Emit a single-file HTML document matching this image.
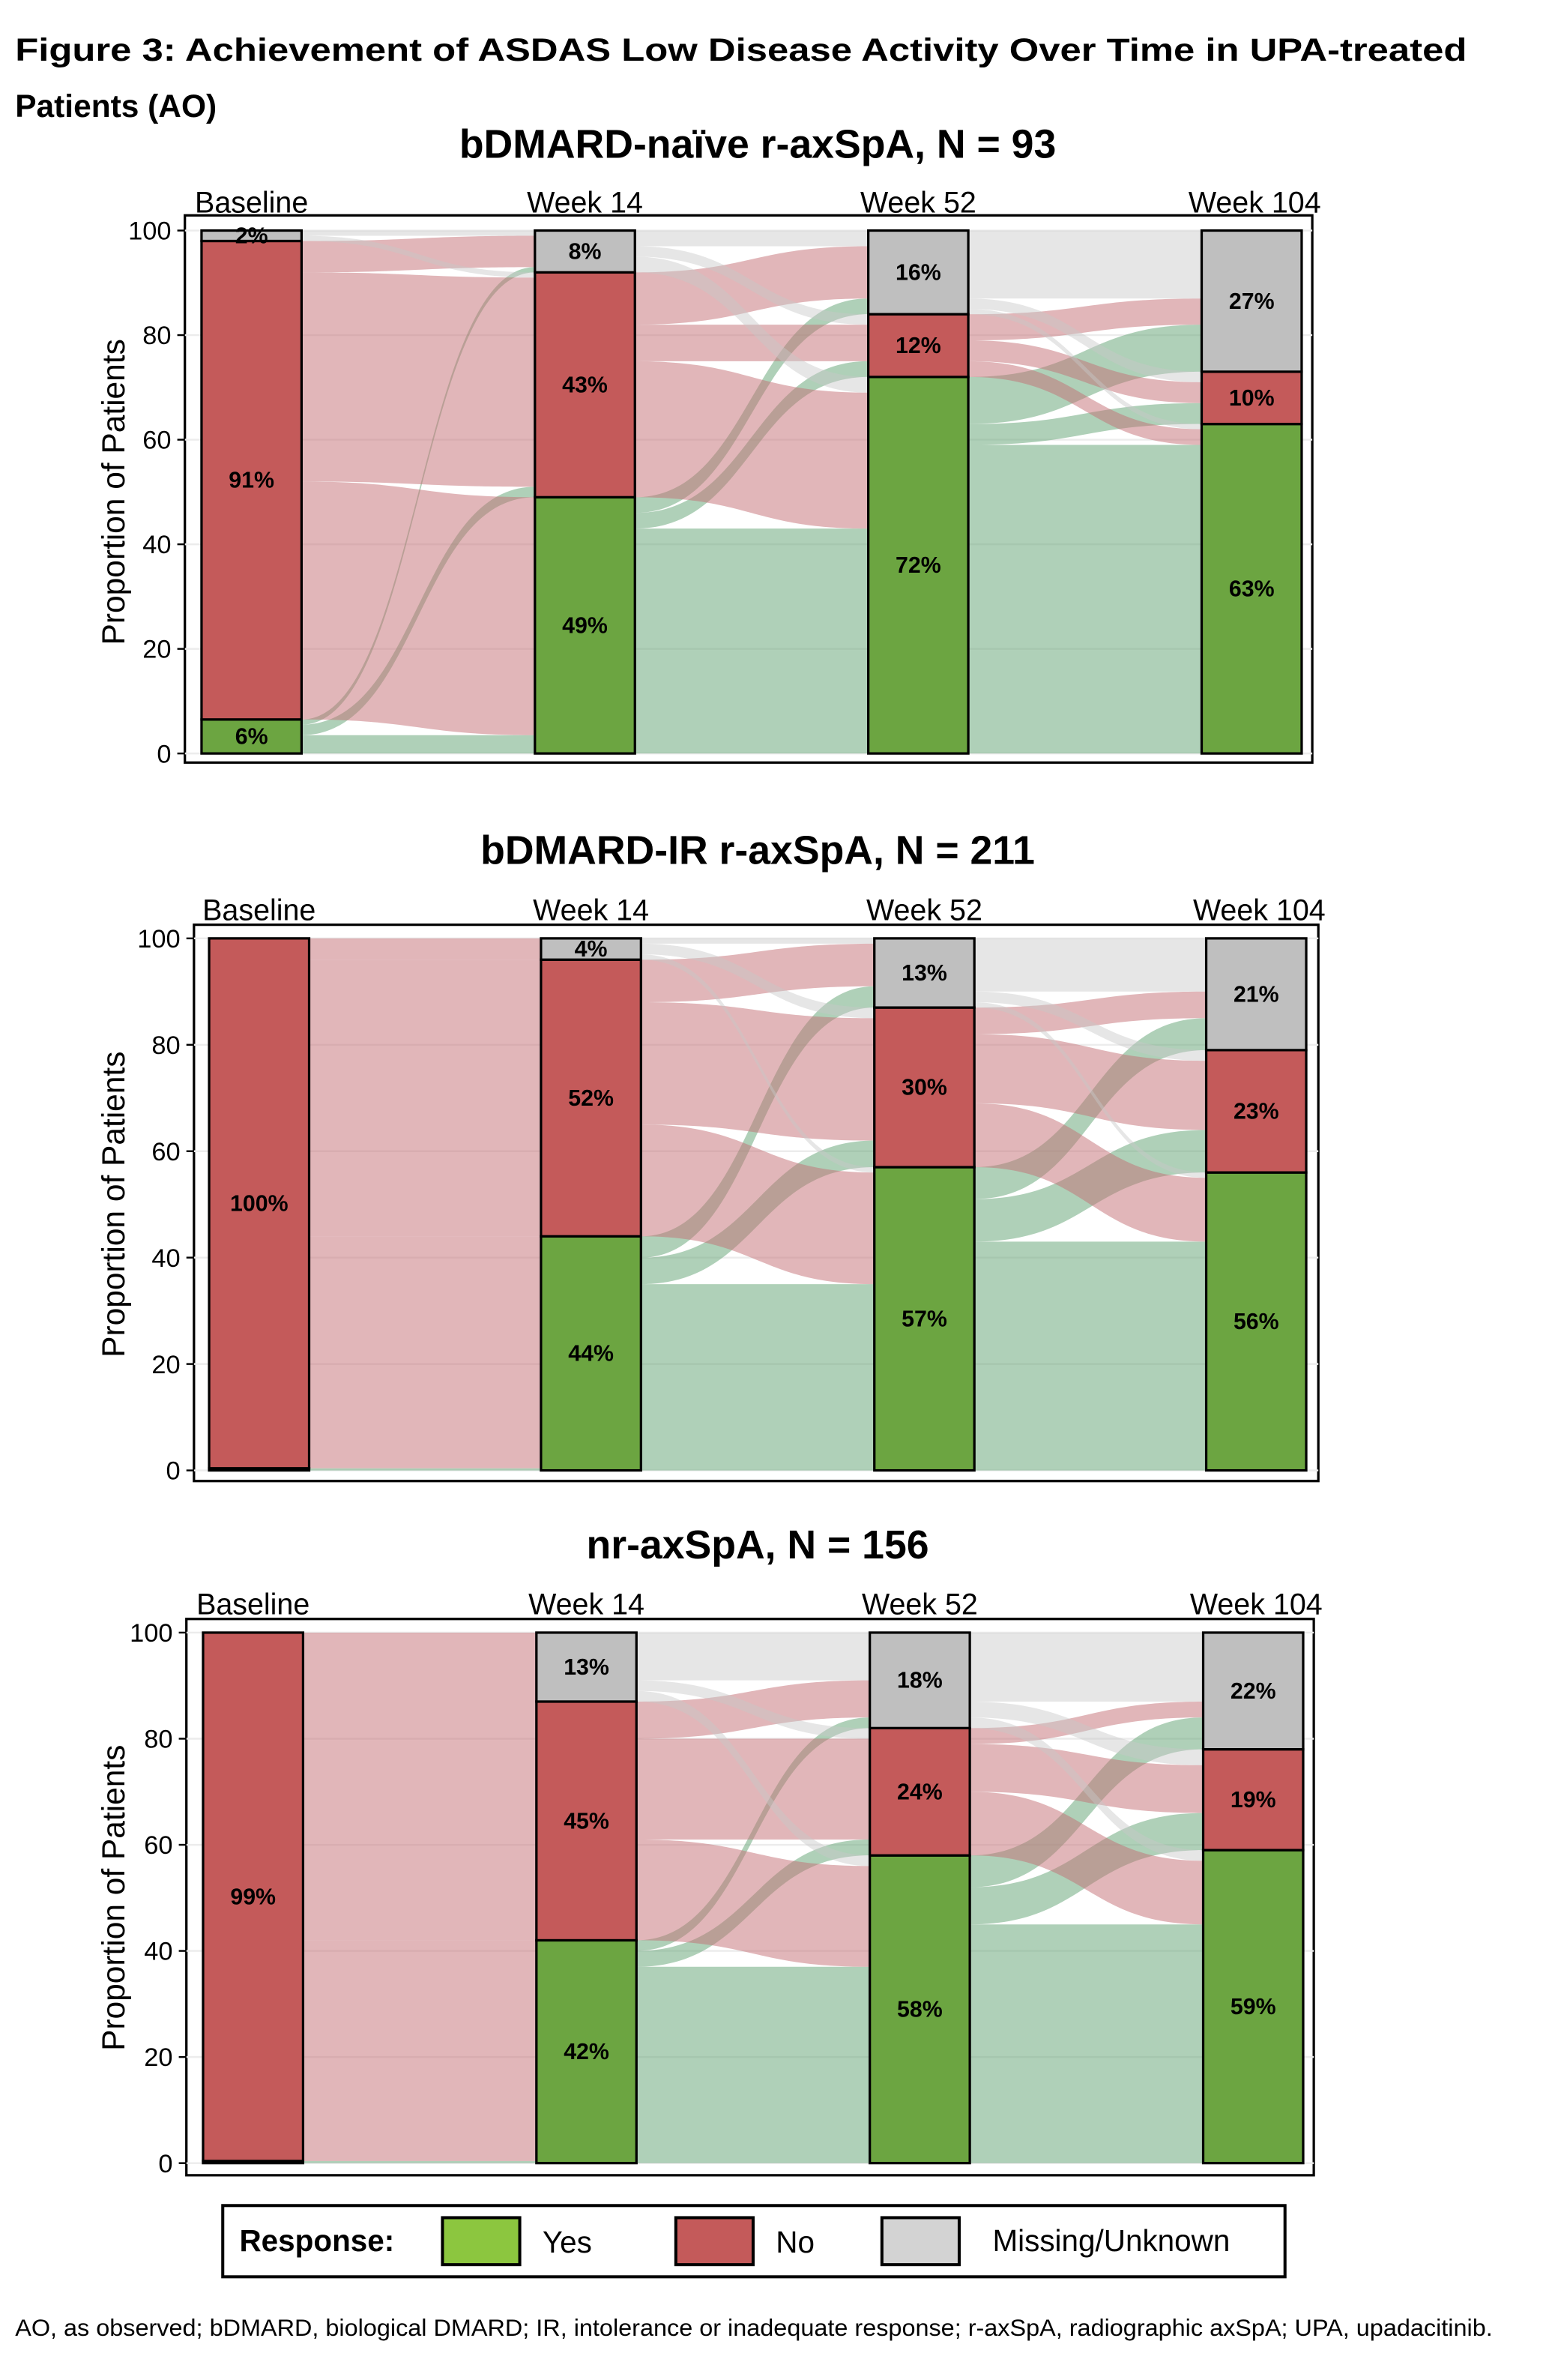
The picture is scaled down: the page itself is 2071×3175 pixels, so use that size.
<!DOCTYPE html>
<html><head><meta charset="utf-8">
<style>
html,body{margin:0;padding:0;background:#fff;}
svg{display:block;}
text{font-family:"Liberation Sans",Arial,sans-serif;}
</style></head>
<body>
<svg id="fig" width="2071" height="3175" viewBox="0 0 1024.2 1570" xmlns="http://www.w3.org/2000/svg">
<text x="10" y="40" font-size="21" font-weight="bold" textLength="958" lengthAdjust="spacingAndGlyphs">Figure 3: Achievement of ASDAS Low Disease Activity Over Time in UPA-treated</text>
<text x="10" y="77" font-size="21" font-weight="bold">Patients (AO)</text>
<g id="panels"></g>
<g>
<rect x="147" y="1455" width="701" height="47" fill="#fff" stroke="#000" stroke-width="2"/>
<text x="158" y="1485" font-size="20" font-weight="bold">Response:</text>
<rect x="292" y="1463" width="51" height="31" fill="#8cc63f" stroke="#000" stroke-width="2"/>
<text x="358" y="1486" font-size="20">Yes</text>
<rect x="446" y="1463" width="51" height="31" fill="#c45a5a" stroke="#000" stroke-width="2"/>
<text x="512" y="1486" font-size="20">No</text>
<rect x="582" y="1463" width="51" height="31" fill="#d3d3d3" stroke="#000" stroke-width="2"/>
<text x="655" y="1485" font-size="20">Missing/Unknown</text>
</g>
<text x="10" y="1541" font-size="15.5" textLength="975" lengthAdjust="spacingAndGlyphs">AO, as observed; bDMARD, biological DMARD; IR, intolerance or inadequate response; r-axSpA, radiographic axSpA; UPA, upadacitinib.</text>
</svg>
<script>
// ===== data =====
const timepoints = ["Baseline","Week 14","Week 52","Week 104"];
const categories = ["Yes","No","Missing/Unknown"];
const panelTitles = ["bDMARD-naïve r-axSpA, N = 93","bDMARD-IR r-axSpA, N = 211","nr-axSpA, N = 156"];
const yTicks = [0,20,40,60,80,100];
// stacks per panel: [timepoint][yes,no,missing]
const stacks1 = [[6.5,91.5,2],[49,43,8],[72,12,16],[63,10,27]];
const stacks2 = [[0.4,99.6,0],[44,52,4],[57,30,13],[56,23,21]];
const stacks3 = [[0.4,99.6,0],[42,45,13],[58,24,18],[59,19,22]];
const labels1 = [["6%","91%","2%"],["49%","43%","8%"],["72%","12%","16%"],["63%","10%","27%"]];
const labels2 = [["","100%",""],["44%","52%","4%"],["57%","30%","13%"],["56%","23%","21%"]];
const labels3 = [["","99%",""],["42%","45%","13%"],["58%","24%","18%"],["59%","19%","22%"]];
// transitions: [transition][from][to]
const flows1 = [
 [[3.5,2,1],[45.5,40,6],[0,1,1]],
 [[43,3,3],[26,7,10],[3,2,3]],
 [[59,4,9],[3,4,5],[1,2,13]]];
const flows2 = [
 [[0.4,0,0],[43.6,52,4],[0,0,0]],
 [[35,5,4],[21,23,8],[1,2,1]],
 [[43,8,6],[12,13,5],[1,2,10]]];
const flows3 = [
 [[0.4,0,0],[41.6,45,13],[0,0,0]],
 [[37,3,2],[19,19,7],[2,2,9]],
 [[45,7,6],[12,9,3],[2,3,13]]];

// ===== layout =====
const panels = [
 {title:panelTitles[0],stacks:stacks1,labels:labels1,flows:flows1,fx:122,fy:142,fw:744,fh:361,y0:497,y100:152,bars:[133,353,573,793],ty:104,ly:140},
 {title:panelTitles[1],stacks:stacks2,labels:labels2,flows:flows2,fx:128,fy:610,fw:742,fh:367,y0:970,y100:619,bars:[138,357,577,796],ty:570,ly:607},
 {title:panelTitles[2],stacks:stacks3,labels:labels3,flows:flows3,fx:123,fy:1068,fw:744,fh:367,y0:1427,y100:1077,bars:[134,354,574,794],ty:1028,ly:1065}];
const BW=66;
const barColors=["#6ca541","#c45a5a","#bfbfbf"];
const flowColors=["rgba(110,170,125,0.55)","rgba(196,110,115,0.5)","rgba(200,200,200,0.45)"];
const NS="http://www.w3.org/2000/svg";
function mk(tag,attrs,parent){const e=document.createElementNS(NS,tag);for(const k in attrs)e.setAttribute(k,attrs[k]);parent.appendChild(e);return e;}
const root=document.getElementById('panels');

panels.forEach((p,pi)=>{
  const g=mk('g',{},root);
  
  
  const yS=v=>p.y0-(p.y0-p.y100)*v/100;
  const t=mk('text',{x:500,y:p.ty,'font-size':26.5,'font-weight':'bold','text-anchor':'middle'},g);
  t.textContent=p.title;
  
  
  const fr=mk('rect',{x:p.fx,y:p.fy,width:p.fw,height:p.fh,fill:'#fff',stroke:'#000','stroke-width':1.6},g);
  
  
  yTicks.forEach(v=>{
    const y=yS(v);
    const gl=mk('line',{x1:p.fx,x2:p.fx+p.fw,y1:y,y2:y,stroke:'#ececec','stroke-width':1.2},g);
    
    
    const tk=mk('line',{x1:p.fx-5,x2:p.fx,y1:y,y2:y,stroke:'#000','stroke-width':1.2},g);
    
    
    const tl=mk('text',{x:p.fx-9,y:y+6,'font-size':17,'text-anchor':'end'},g);
    tl.textContent=v;
    
    
  });
  const yt=mk('text',{x:0,y:0,'font-size':21,'text-anchor':'middle',transform:`translate(82,${(p.y0+p.y100)/2}) rotate(-90)`},g);
  yt.textContent='Proportion of Patients';
  
  
  for(let tr=0;tr<3;tr++){
    const xa=p.bars[tr]+BW, xb=p.bars[tr+1];
    const m=p.flows[tr];
    const srcOff=[],tgtOff=[];
    let acc=0;for(let i=0;i<3;i++){srcOff.push(acc);acc+=p.stacks[tr][i];}
    acc=0;for(let j=0;j<3;j++){tgtOff.push(acc);acc+=p.stacks[tr+1][j];}
    const sCur=srcOff.slice(),tCur=tgtOff.slice();
    const paths=[];
    for(let i=0;i<3;i++)for(let j=0;j<3;j++){
      const v=m[i][j];if(v<=0)continue;
      const s0=sCur[i],s1=s0+v;sCur[i]=s1;
      paths.push({i,j,s0,s1});
    }
    for(let j=0;j<3;j++)for(let i=0;i<3;i++){
      const f=paths.find(q=>q.i===i&&q.j===j);if(!f)continue;
      f.t0=tCur[j];f.t1=f.t0+m[i][j];tCur[j]=f.t1;
    }
    const mx=(xa+xb)/2;
    paths.forEach(f=>{
      const a0=yS(f.s0),a1=yS(f.s1),b0=yS(f.t0),b1=yS(f.t1);
      const d=`M${xa},${a0} C${mx},${a0} ${mx},${b0} ${xb},${b0} L${xb},${b1} C${mx},${b1} ${mx},${a1} ${xa},${a1} Z`;
      const e=mk('path',{d,fill:flowColors[f.i]},g);
      
      
    });
  }
  p.bars.forEach((bx,ti)=>{
    let acc=0;
    p.stacks[ti].forEach((v,ci)=>{
      if(v>0){
        const r=mk('rect',{x:bx,y:yS(acc+v),width:BW,height:yS(acc)-yS(acc+v),fill:barColors[ci],stroke:'#000','stroke-width':1.6},g);
        
        
        const lab=p.labels[ti][ci];
        if(lab){
          const tx=mk('text',{x:bx+BW/2,y:yS(acc+v/2)+5,'font-size':15,'font-weight':'bold','text-anchor':'middle'},g);
          tx.textContent=lab;
          
          
        }
      }
      acc+=v;
    });
    const cl=mk('text',{x:bx+BW/2+(ti===3?2:0),y:p.ly,'font-size':19.5,'text-anchor':'middle'},g);
    cl.textContent=timepoints[ti];
    
    
  });
});
</script>
</body></html>
